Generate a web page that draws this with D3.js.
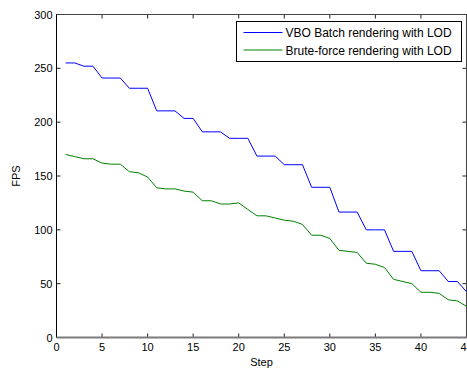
<!DOCTYPE html>
<html>
<head>
<meta charset="utf-8">
<script src="https://cdn.jsdelivr.net/npm/d3@7"></script>
<style>
  body { margin: 0; background: #fff; }
  svg { display: block; font-family: "Liberation Sans", Arial, sans-serif; }
</style>
</head>
<body>
<svg id="chart" width="467" height="369"></svg>
<script>
// Values
const steps = d3.range(1, 46);
const vboBatch = [255, 255, 252, 252, 241, 241, 241, 231.5, 231.5, 231.5,
  210.5, 210.5, 210.5, 203.5, 203.5, 191, 191, 191, 185, 185,
  185, 168.5, 168.5, 168.5, 160.5, 160.5, 160.5, 139.5, 139.5, 139.5,
  116.5, 116.5, 116.5, 100, 100, 100, 80, 80, 80, 62,
  62, 62, 52, 52, 42.5];
const bruteForce = [170, 168, 166, 166, 162, 161, 161, 154, 153, 149,
  139, 138, 138, 136, 135, 127, 127, 124, 124, 125,
  119, 113, 113, 111, 109, 108, 105, 95, 95, 92,
  81, 80, 79, 69, 68, 65, 54, 52, 50, 42,
  42, 41, 35, 34, 29];
const seriesNames = ['VBO Batch rendering with LOD', 'Brute-force rendering with LOD'];
const xTicks = d3.range(0, 46, 5);
const yTicks = d3.range(0, 301, 50);

const svg = d3.select('#chart');
const plotLeft = 56.5, plotTop = 14.5, plotRight = 466.5, plotBottom = 337.5;

const x = d3.scaleLinear().domain([0, 45]).range([plotLeft, plotRight]);
const y = d3.scaleLinear().domain([0, 300]).range([plotBottom, plotTop]);

// tick marks, drawn inward on all four sides
const tickLen = 4;
const ticks = svg.append('g').attr('stroke', '#222').attr('stroke-width', 1);
xTicks.forEach(t => {
  ticks.append('line').attr('x1', x(t)).attr('x2', x(t)).attr('y1', plotBottom).attr('y2', plotBottom - tickLen);
  ticks.append('line').attr('x1', x(t)).attr('x2', x(t)).attr('y1', plotTop).attr('y2', plotTop + tickLen);
});
yTicks.forEach(t => {
  ticks.append('line').attr('x1', plotLeft).attr('x2', plotLeft + tickLen).attr('y1', y(t)).attr('y2', y(t));
  ticks.append('line').attr('x1', plotRight).attr('x2', plotRight - tickLen).attr('y1', y(t)).attr('y2', y(t));
});

// frame
svg.append('line').attr('x1', plotLeft).attr('x2', plotRight).attr('y1', plotTop).attr('y2', plotTop)
  .attr('stroke', '#444').attr('stroke-width', 1);
svg.append('line').attr('x1', plotRight).attr('x2', plotRight).attr('y1', plotTop).attr('y2', plotBottom)
  .attr('stroke', '#444').attr('stroke-width', 1);
svg.append('line').attr('x1', plotLeft).attr('x2', plotLeft).attr('y1', plotTop).attr('y2', plotBottom)
  .attr('stroke', '#000').attr('stroke-width', 1);
svg.append('line').attr('x1', plotLeft).attr('x2', plotRight).attr('y1', plotBottom).attr('y2', plotBottom)
  .attr('stroke', '#7a7a7a').attr('stroke-width', 2);

// tick labels
svg.append('g').selectAll('text').data(xTicks).enter().append('text')
  .attr('x', d => x(d)).attr('y', plotBottom + 13)
  .attr('text-anchor', 'middle').attr('font-size', 11).attr('fill', '#000')
  .text(d => d);
svg.append('g').selectAll('text').data(yTicks).enter().append('text')
  .attr('x', plotLeft - 4).attr('y', d => y(d) + 4)
  .attr('text-anchor', 'end').attr('font-size', 11).attr('fill', '#000')
  .text(d => d);

// axis titles
svg.append('text').attr('x', x(22.5)).attr('y', 366)
  .attr('text-anchor', 'middle').attr('font-size', 11).text('Step');
svg.append('text').attr('transform', 'translate(20,' + ((plotTop + plotBottom) / 2) + ') rotate(-90)')
  .attr('text-anchor', 'middle').attr('font-size', 11).text('FPS');

// lines
const line = d3.line().x((d, i) => x(steps[i])).y(d => y(d));
svg.append('path').datum(vboBatch).attr('d', line)
  .attr('fill', 'none').attr('stroke', '#0000ff').attr('stroke-width', 1);
svg.append('path').datum(bruteForce).attr('d', line)
  .attr('fill', 'none').attr('stroke', '#008000').attr('stroke-width', 1);

// legend
const lg = svg.append('g').attr('transform', 'translate(236.5,21.5)');
lg.append('rect').attr('width', 225).attr('height', 40)
  .attr('fill', '#fff').attr('stroke', '#000').attr('stroke-width', 1);
const colors = ['#0000ff', '#008000'];
seriesNames.forEach((name, i) => {
  const yy = 11 + i * 17.5;
  lg.append('line').attr('x1', 7).attr('x2', 46).attr('y1', yy).attr('y2', yy)
    .attr('stroke', colors[i]).attr('stroke-width', 1);
  lg.append('text').attr('x', 49).attr('y', yy + 4.5)
    .attr('font-size', 12).attr('fill', '#000').text(name);
});
</script>
</body>
</html>
